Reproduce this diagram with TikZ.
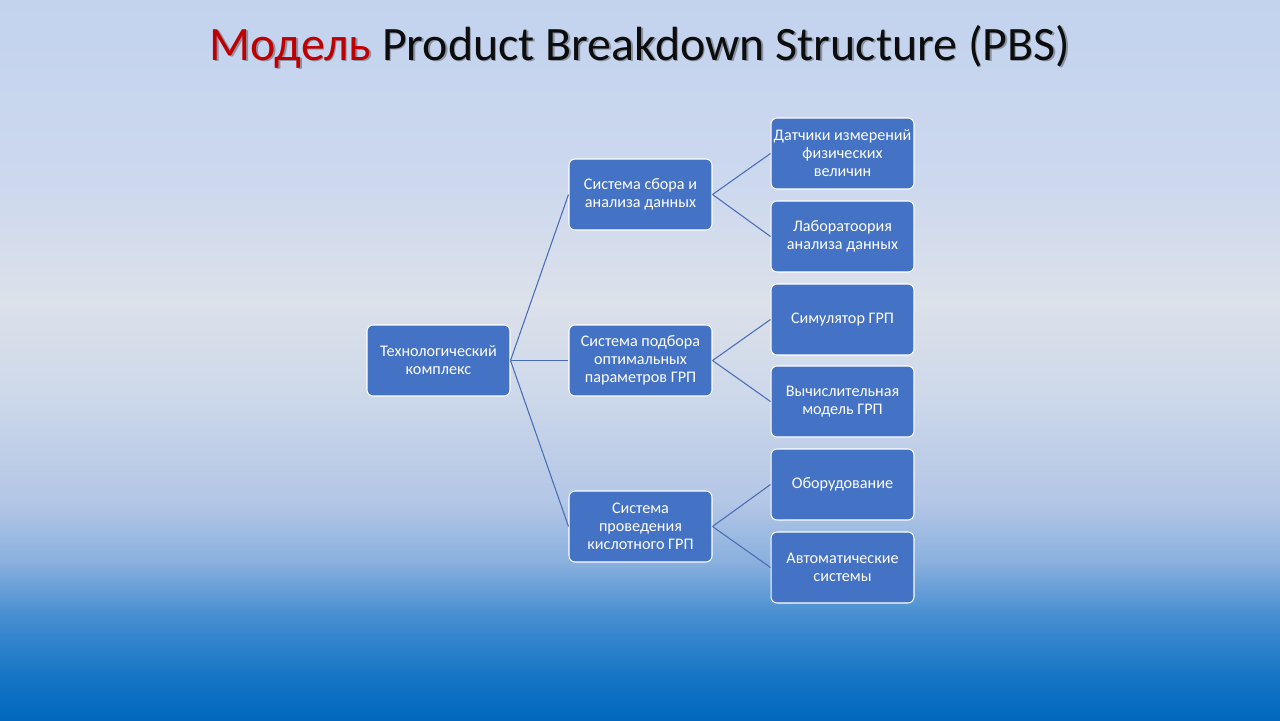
\documentclass[tikz,border=0pt]{standalone}
\usepackage{fontspec}
\setmainfont{Carlito}
\definecolor{bgA}{HTML}{0068BE}
\definecolor{bgB}{HTML}{1575C5}
\definecolor{bgC}{HTML}{4A90D2}
\definecolor{bgD}{HTML}{8AB0DE}
\definecolor{bgE}{HTML}{B2C6E6}
\definecolor{bgF}{HTML}{CDD8EA}
\definecolor{bgG}{HTML}{DCE1EA}
\definecolor{bgH}{HTML}{CCD8EE}
\definecolor{bgI}{HTML}{C3D3EE}
\definecolor{boxblue}{HTML}{4472C4}
\definecolor{linkblue}{HTML}{4A6CB4}
\definecolor{titlered}{HTML}{C00000}
\definecolor{titleblack}{HTML}{0D0D0D}
\pgfdeclareverticalshading{bgshade}{100bp}{color(0bp)=(bgA); color(25bp)=(bgA); color(28bp)=(bgB); color(32.5bp)=(bgC); color(36bp)=(bgD); color(40bp)=(bgE); color(47.5bp)=(bgF); color(54bp)=(bgG); color(62.5bp)=(bgH); color(75bp)=(bgI); color(100bp)=(bgI)}
\begin{document}
\begin{tikzpicture}[x=0.02cm,y=-0.02cm,
  box/.style={fill=boxblue, draw=white, line width=0.6pt, rounded corners=3.5pt,
    minimum width=2.86cm, minimum height=1.42cm, text=white, align=center,
    inner sep=1pt, font=\fontsize{9.2}{10.2}\selectfont},
  conn/.style={draw=linkblue, line width=0.6pt},
  titlestyle/.style={anchor=base, inner sep=0pt, font=\fontsize{27.3}{31}\selectfont}]
\useasboundingbox (0,0) rectangle (1280,720);
\shade[shading=bgshade] (0,0) rectangle (1280,720);
\node[titlestyle, text=black, opacity=0.3] (tshadow) at (641.5,61.5) {Модель Product Breakdown Structure (PBS)};
\node[titlestyle, text=titleblack] (title) at (640,60) {\textcolor{titlered}{Модель} Product Breakdown Structure (PBS)};
\node[box] (root) at (438.5,360.5) {Технологический\\комплекс};
\node[box] (m1) at (640.5,194.5) {Система сбора и\\анализа данных};
\node[box] (m2) at (640.5,360.5) {Система подбора\\оптимальных\\параметров ГРП};
\node[box] (m3) at (640.5,526.5) {Система\\проведения\\кислотного ГРП};
\node[box] (l1) at (842.5,153.5) {Датчики измерений\\физических\\величин};
\node[box] (l2) at (842.5,236.5) {Лаборатоория\\анализа данных};
\node[box] (l3) at (842.5,319.5) {Симулятор ГРП};
\node[box] (l4) at (842.5,401.5) {Вычислительная\\модель ГРП};
\node[box] (l5) at (842.5,484.5) {Оборудование};
\node[box] (l6) at (842.5,567.5) {Автоматические\\системы};
\draw[conn] (root.east) -- (m1.west);
\draw[conn] (root.east) -- (m2.west);
\draw[conn] (root.east) -- (m3.west);
\draw[conn] (m1.east) -- (l1.west);
\draw[conn] (m1.east) -- (l2.west);
\draw[conn] (m2.east) -- (l3.west);
\draw[conn] (m2.east) -- (l4.west);
\draw[conn] (m3.east) -- (l5.west);
\draw[conn] (m3.east) -- (l6.west);
\end{tikzpicture}
\end{document}
